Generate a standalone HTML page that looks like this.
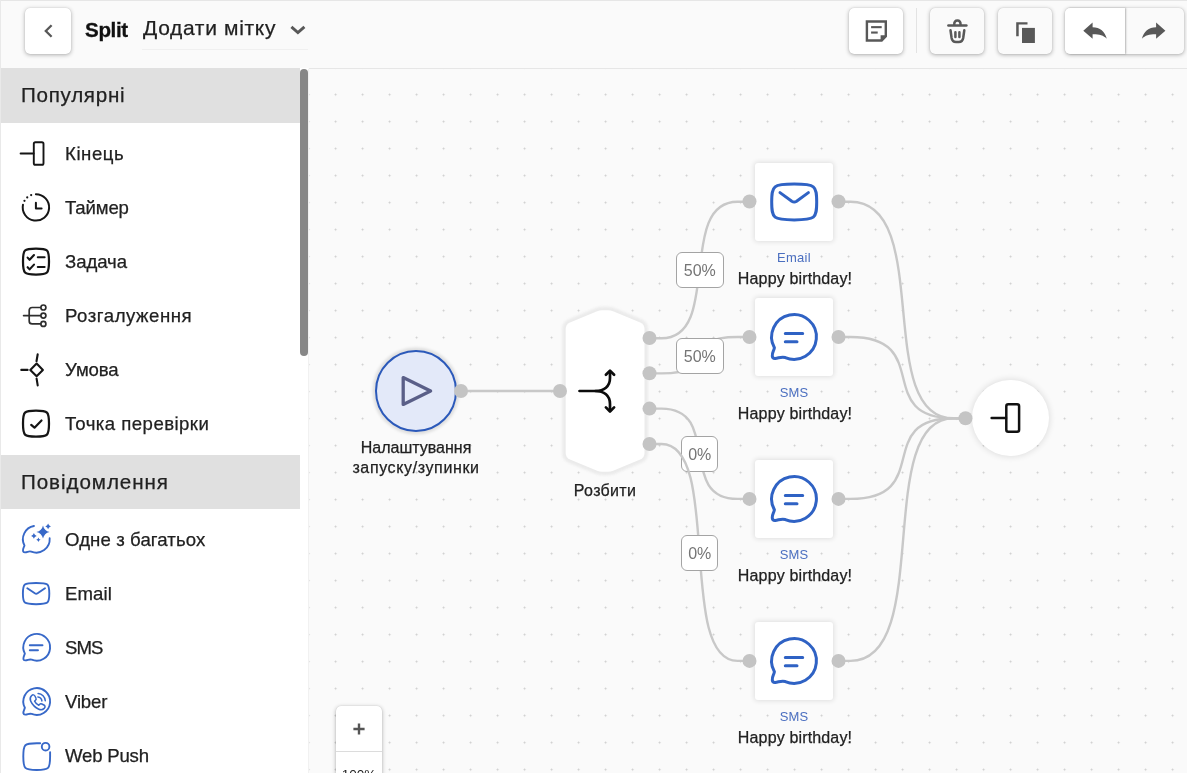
<!DOCTYPE html>
<html lang="uk">
<head>
<meta charset="utf-8">
<title>Split</title>
<style>
*{box-sizing:border-box;margin:0;padding:0}
html,body{width:1187px;height:773px;overflow:hidden;background:#fafafa;font-family:"Liberation Sans",sans-serif;color:#212121}
#app{position:relative;width:1187px;height:773px;overflow:hidden;background:#fafafa}
/* header */
#hdr{position:absolute;left:0;top:0;width:1187px;height:68px;background:#fafafa}
.btn{position:absolute;top:8px;height:46px;border-radius:5px;background:#fff;box-shadow:0 1px 4px rgba(0,0,0,.3),0 0 1px rgba(0,0,0,.2)}
.btn.dis{background:#fafafa}
.btn svg{position:absolute;display:block}
#title{position:absolute;left:84.5px;top:17px;font-weight:bold;font-size:20.6px;letter-spacing:-0.35px;line-height:26px;color:#111;white-space:nowrap}
#tag{position:absolute;left:143px;top:14px;font-size:21px;letter-spacing:0.68px;line-height:28px;color:#212121;white-space:nowrap}
#tagline{position:absolute;left:142px;top:48.5px;width:166px;height:1px;background:#f0f0f0}
/* sidebar */
#side{position:absolute;left:0;top:68px;width:300px;height:705px;background:#fff;border-left:1px solid #e0e0e0}
.sec{position:absolute;left:0;width:300px;height:54.6px;background:#e0e0e0;font-size:20.6px;line-height:54px;padding-left:20px;color:#212121;white-space:nowrap}
.it{position:absolute;left:0;width:300px;height:54px;font-size:18.6px;line-height:54px;padding-left:64px;color:#212121;white-space:nowrap}
.it svg{position:absolute;left:19px;top:11px;width:32px;height:32px;display:block}
#sb{position:absolute;left:300px;top:68px;width:8px;height:705px;background:#fff}
#thumb{position:absolute;left:0;top:1px;width:8px;height:287px;border-radius:4px;background:#878787}
#vline{position:absolute;left:308px;top:69px;width:1px;height:704px;background:#f1f1f1}
/* canvas */
#cv{position:absolute;left:309px;top:68px;width:878px;height:705px;border-top:1px solid #e6e6e6;overflow:hidden;background-color:#fafafa;
background-image:radial-gradient(circle,#cdcdcd 0,#cdcdcd 0.7px,rgba(205,205,205,0) 1.3px);background-size:27px 27px;background-position:-310.9px -68.9px}
#wires{position:absolute;left:0;top:0;width:1187px;height:773px}
.abs{position:absolute}
.it,.sec,.lbl,.pc,#title,#tag,#zoom div{will-change:transform}
.it,.sec,.nm,#tag{-webkit-text-stroke:0.25px currentColor}
#title{-webkit-text-stroke:0.3px currentColor}
.node{position:absolute;width:78px;height:78px;background:#fff;border-radius:3px;box-shadow:0 0 5px 1px rgba(0,0,0,.11)}
.lbl{position:absolute;width:200px;text-align:center;white-space:nowrap}
.ch{font-size:13px;line-height:16px;color:#4b6fc0}
.nm{font-size:16px;line-height:20px;color:#212121}
.pc{position:absolute;height:36px;border:1.5px solid #a4a4a4;border-radius:6px;background:#fff;color:#757575;font-size:16px;line-height:35.6px;text-align:center}
#zoom{position:absolute;left:336px;top:706px;width:46px;height:80px;background:#fff;border-radius:5px;box-shadow:0 1px 4px rgba(0,0,0,.3),0 0 1px rgba(0,0,0,.2)}
</style>
</head>
<body>
<div id="app">
<div id="cv"><div class="abs" style="left:-309px;top:-69px;width:1187px;height:773px">
<svg id="wires" width="1187" height="773" viewBox="0 0 1187 773">
<g fill="none" stroke="#c8c8c8" stroke-width="2.4"><path d="M649.5 338.3H661.5C722.5 338.3 676.5 201.8 737.5 201.8H749.5"/><path d="M649.5 373.4H661.5C722.5 373.4 676.5 337 737.5 337H749.5"/><path d="M649.5 408.6H661.5C722.5 408.6 676.5 498.900 737.5 498.900H749.5"/><path d="M838.5 201.8H850.5C934.5 201.8 872.5 418.3 953.5 418.3H965.5"/><path d="M838.5 337H850.5C934.5 337 872.5 418.3 953.5 418.3H965.5"/><path d="M838.5 498.900H850.5C934.5 498.900 872.5 418.3 953.5 418.3H965.5"/><path d="M838.5 660.900H850.5C934.5 660.900 872.5 418.3 953.5 418.3H965.5"/><path d="M461 391H560"/></g>
</svg>
<div class="abs" style="left:375px;top:350px;width:82px;height:82px;border-radius:50%;background:#e3e9f9;border:2.7px solid #2b59ba;box-shadow:0 0 3px 2.5px rgba(0,0,0,.11)"></div>
<svg class="abs" style="left:396px;top:371px" width="40" height="40" viewBox="396 371 40 40"><path d="M403.200 377.600V404.400L430.600 391Z" fill="none" stroke="#5a5f88" stroke-width="3.300" stroke-linejoin="round"/></svg>
<div class="lbl nm" style="left:316px;top:438px">Налаштування<br><span style="letter-spacing:.62px">запуску/зупинки</span></div>
<svg class="abs" style="left:555px;top:300px" width="100" height="182" viewBox="555 300 100 182"><path d="M565.700 329Q565.700 324.200 570 322.400L596.500 311.400Q599.500 310.200 602.500 310.200H607.700Q610.700 310.200 613.700 311.400L640.200 322.400Q644.500 324.200 644.500 329V453Q644.500 457.800 640.200 459.600L613.700 470.600Q610.700 471.800 607.700 471.800H602.500Q599.500 471.800 596.500 470.600L570 459.600Q565.700 457.800 565.700 453Z" fill="#fff" stroke="#ebebeb" stroke-width="7" stroke-linejoin="round" style="filter:blur(1.3px)"/>
<path d="M565.700 329Q565.700 324.200 570 322.400L596.500 311.400Q599.500 310.200 602.500 310.200H607.700Q610.700 310.200 613.700 311.400L640.200 322.400Q644.500 324.200 644.500 329V453Q644.500 457.800 640.200 459.600L613.700 470.600Q610.700 471.800 607.700 471.800H602.500Q599.500 471.800 596.500 470.600L570 459.600Q565.700 457.800 565.700 453Z" fill="#fff"/>
<g fill="none" stroke="#0c0c0c" stroke-width="2.700" stroke-linecap="round" stroke-linejoin="round"><path d="M579.500 391H595.500C604 391 610 386.500 610 378V371.500"/><path d="M595.500 391C604 391 610 395.500 610 404V410.500"/><path d="M605.900 374.800L610 370.700L614.100 374.800M605.900 407.400L610 411.500L614.100 407.400"/></g></svg>
<div class="lbl nm" style="left:505px;top:481px;letter-spacing:.3px">Розбити</div>
<div class="node" style="left:755px;top:163px"><svg class="abs" style="left:0;top:0" width="78" height="78" viewBox="0 0 78 78"><g fill="none" stroke="#2f62c4" stroke-width="3" stroke-linecap="round" stroke-linejoin="round"><path d="M39.2 21.1C60.12 21.1 61.7 22.35 61.7 39C61.7 55.65 60.12 56.9 39.2 56.9C18.28 56.9 16.700000000000003 55.65 16.700000000000003 39C16.700000000000003 22.35 18.28 21.1 39.2 21.1Z"/><path d="M25 29.600L36.800 38.200Q39.200 39.800 41.600 38.200L53.400 29.600"/></g></svg></div><div class="lbl ch" style="left:694.500px;top:250px;letter-spacing:0.3px;margin-left:-0.8px">Email</div><div class="lbl nm" style="left:694.500px;top:269px"><span style="letter-spacing:.15px">Happy birthday!</span></div>
<div class="node" style="left:755px;top:298px"><svg class="abs" style="left:0;top:0" width="78" height="78" viewBox="0 0 78 78"><g fill="none" stroke="#2f62c4" stroke-width="3" stroke-linecap="round" stroke-linejoin="round"><path d="M30.25 59.52A22.4 22.4 0 1 0 19.41 49.76C18.81 53.26 17.00 54.30 17.30 58.10Q17.60 60.70 20.20 60.50C23.80 60.10 26.25 58.32 30.25 59.52Z"/><path d="M30.300 35.500H47.700M30.300 43.700H42"/></g></svg></div><div class="lbl ch" style="left:694.500px;top:385px;letter-spacing:0.1px;margin-left:-0.3px">SMS</div><div class="lbl nm" style="left:694.500px;top:404px"><span style="letter-spacing:.15px">Happy birthday!</span></div>
<div class="node" style="left:755px;top:460.200px"><svg class="abs" style="left:0;top:0" width="78" height="78" viewBox="0 0 78 78"><g fill="none" stroke="#2f62c4" stroke-width="3" stroke-linecap="round" stroke-linejoin="round"><path d="M30.25 59.52A22.4 22.4 0 1 0 19.41 49.76C18.81 53.26 17.00 54.30 17.30 58.10Q17.60 60.70 20.20 60.50C23.80 60.10 26.25 58.32 30.25 59.52Z"/><path d="M30.300 35.500H47.700M30.300 43.700H42"/></g></svg></div><div class="lbl ch" style="left:694.500px;top:547px;letter-spacing:0.1px;margin-left:-0.3px">SMS</div><div class="lbl nm" style="left:694.500px;top:566px"><span style="letter-spacing:.15px">Happy birthday!</span></div>
<div class="node" style="left:755px;top:622.200px"><svg class="abs" style="left:0;top:0" width="78" height="78" viewBox="0 0 78 78"><g fill="none" stroke="#2f62c4" stroke-width="3" stroke-linecap="round" stroke-linejoin="round"><path d="M30.25 59.52A22.4 22.4 0 1 0 19.41 49.76C18.81 53.26 17.00 54.30 17.30 58.10Q17.60 60.70 20.20 60.50C23.80 60.10 26.25 58.32 30.25 59.52Z"/><path d="M30.300 35.500H47.700M30.300 43.700H42"/></g></svg></div><div class="lbl ch" style="left:694.500px;top:709px;letter-spacing:0.1px;margin-left:-0.3px">SMS</div><div class="lbl nm" style="left:694.500px;top:728px"><span style="letter-spacing:.15px">Happy birthday!</span></div>
<div class="pc" style="left:675.600px;top:252px;width:47.600px">50%</div>
<div class="pc" style="left:675.600px;top:337.500px;width:47.600px">50%</div>
<div class="pc" style="left:681.200px;top:435.800px;width:37.400px">0%</div>
<div class="abs" style="left:972.300px;top:379.500px;width:76.400px;height:76.400px;border-radius:50%;background:#fff;box-shadow:0 0 6px 1px rgba(0,0,0,.11)"></div>
<svg class="abs" style="left:985px;top:398px" width="40" height="40" viewBox="985 398 40 40"><g fill="none" stroke="#111" stroke-width="2.500" stroke-linecap="round" stroke-linejoin="round"><path d="M991.600 418H1006"/><rect x="1006.300" y="404.300" width="12.800" height="27.400" rx="2"/></g></svg>
<svg class="abs" style="left:0;top:0;pointer-events:none" width="1187" height="773" viewBox="0 0 1187 773"><g fill="none" stroke="#c8c8c8" stroke-width="2.4"><path d="M649.5 444H661.5C722.5 444 676.5 660.900 737.5 660.900H749.5"/></g><g fill="#c4c4c4"><circle cx="461" cy="391" r="7"/><circle cx="560" cy="391" r="7"/><circle cx="649.5" cy="338" r="7"/><circle cx="649.5" cy="373.2" r="7"/><circle cx="649.5" cy="408.6" r="7"/><circle cx="649.5" cy="444" r="7"/><circle cx="749.5" cy="201.5" r="7"/><circle cx="749.5" cy="337" r="7"/><circle cx="749.5" cy="498.900" r="7"/><circle cx="749.5" cy="660.900" r="7"/><circle cx="838.5" cy="201.5" r="7"/><circle cx="838.5" cy="337" r="7"/><circle cx="838.5" cy="498.900" r="7"/><circle cx="838.5" cy="660.900" r="7"/><circle cx="965.500" cy="418.300" r="7"/></g></svg>
<div class="pc" style="left:681.200px;top:534.500px;width:37.400px">0%</div>
<div id="zoom"><div class="abs" style="left:0;top:45px;width:46px;height:1px;background:#dcdcdc"></div>
<svg class="abs" style="left:11px;top:11px" width="24" height="24" viewBox="0 0 24 24"><path d="M6.400 12H17.600M12 6.400V17.600" fill="none" stroke="#555" stroke-width="2.400"/></svg>
<div class="abs" style="left:0;top:60px;width:46px;text-align:center;font-size:13.500px;line-height:18px;color:#222">100%</div></div></div>
</div></div>
<!--CANVAS_END-->
<div id="side">
 <div class="sec" style="top:0px;letter-spacing:0.72px">Популярні</div>
 <div class="it" style="top:59px;letter-spacing:0.56px">Кінець</div><svg class="abs" style="left:15px;top:66px" width="40" height="40" viewBox="16 134 40 40"><g fill="none" stroke="#151515" stroke-linecap="round" stroke-linejoin="round" stroke-width="1.9"><path d="M20.6 153.5H33.6"/><rect x="33.8" y="142.2" width="9.7" height="22.6" rx="1.6"/></g></svg>
 <div class="it" style="top:113px;letter-spacing:-0.16px">Таймер</div><svg class="abs" style="left:15px;top:120px" width="40" height="40" viewBox="16 188 40 40"><g fill="none" stroke="#151515" stroke-linecap="round" stroke-linejoin="round" stroke-width="2"><path d="M35.9 194.20000000000002A13.2 13.2 0 1 1 22.99 204.66"/><path d="M35.9 202.8V208.6H41.6"/><circle cx="24.47" cy="200.80" r="1.1" fill="#151515" stroke="none"/><circle cx="27.24" cy="197.44" r="1.1" fill="#151515" stroke="none"/><circle cx="31.17" cy="195.08" r="1.1" fill="#151515" stroke="none"/></g></svg>
 <div class="it" style="top:167px;letter-spacing:-0.08px">Задача</div><svg class="abs" style="left:15px;top:174px" width="40" height="40" viewBox="16 242 40 40"><g fill="none" stroke="#151515" stroke-linecap="round" stroke-linejoin="round" stroke-width="2.25"><path d="M36 248.5C47.96 248.5 49 249.54 49 261.5C49 273.46 47.96 274.5 36 274.5C24.04 274.5 23 273.46 23 261.5C23 249.54 24.04 248.5 36 248.5Z"/><path d="M27.6 257.6l2 2.2 4.400-4.800M27.600 267.200l2 2.200 4.400-4.800M37.800 257.300H44.600M37.800 267H44.600" stroke-width="2.1"/></g></svg>
 <div class="it" style="top:221px;letter-spacing:0.54px">Розгалуження</div><svg class="abs" style="left:15px;top:228px" width="40" height="40" viewBox="16 296 40 40"><g fill="none" stroke="#2e2e2e" stroke-width="1.7" stroke-linecap="round"><path d="M23.600 315.600H40.600"/><path d="M40.600 307.500H32.200a3 3 0 0 0-3 3V320.900a3 3 0 0 0 3 3H40.600"/><circle cx="43.400" cy="307.500" r="2.500" fill="#fff"/><circle cx="43.400" cy="315.600" r="2.500" fill="#fff"/><circle cx="43.400" cy="323.900" r="2.500" fill="#fff"/></g></svg>
 <div class="it" style="top:275px;letter-spacing:-0.1px">Умова</div><svg class="abs" style="left:15px;top:282px" width="40" height="40" viewBox="16 350 40 40"><g fill="none" stroke="#151515" stroke-linecap="round" stroke-linejoin="round" stroke-width="2.1"><path d="M36.600 363.600L42.900 369.900 36.600 376.200 30.300 369.900Z"/><path d="M21.300 369.900H27.600M37.700 354.200L36.500 361.200M36.600 378.600L37.700 385.400"/></g></svg>
 <div class="it" style="top:329px;letter-spacing:0.45px">Точка перевірки</div><svg class="abs" style="left:15px;top:336px" width="40" height="40" viewBox="16 404 40 40"><g fill="none" stroke="#151515" stroke-linecap="round" stroke-linejoin="round" stroke-width="2.25"><path d="M36 410.6C47.96 410.6 49 411.64 49 423.6C49 435.56 47.96 436.6 36 436.6C24.04 436.6 23 435.56 23 423.6C23 411.64 24.04 410.6 36 410.6Z"/><path d="M31.200 424.900l3.300 2.800 7-7.200" stroke-width="2.200"/></g></svg>
 <div class="sec" style="top:387px;height:54px;letter-spacing:0.93px">Повідомлення</div>
 <div class="it" style="top:445px;letter-spacing:0.1px">Одне з багатьох</div><svg class="abs" style="left:15px;top:452px" width="40" height="40" viewBox="16 520 40 40"><g fill="none" stroke="#3768c8" stroke-linecap="round" stroke-linejoin="round" stroke-width="1.85"><path d="M33.97 526.00A13.4 13.4 0 0 0 24.47 545.49C23.87 547.69 22.70 548.70 23.00 551.00Q23.299999999999997 552.40 24.90 552.30C27.30 552.40 28.78 550.72 31.28 551.62A13.4 13.4 0 0 0 49.67 538.27"/><g fill="#3768c8" stroke="none"><path d="M43 525.4Q44.19 530.81 49.6 532Q44.19 533.19 43 538.6Q41.81 533.19 36.4 532Q41.81 530.81 43 525.4Z"/><path d="M48.1 523.6Q48.60 525.90 50.9 526.4Q48.60 526.90 48.1 529.1999999999999Q47.60 526.90 45.300000000000004 526.4Q47.60 525.90 48.1 523.6Z"/><path d="M33.9 533.1Q34.40 535.40 36.699999999999996 535.9Q34.40 536.40 33.9 538.6999999999999Q33.40 536.40 31.099999999999998 535.9Q33.40 535.40 33.9 533.1Z"/><path d="M38.4 537.5Q38.80 539.30 40.6 539.7Q38.80 540.10 38.4 541.9000000000001Q38.00 540.10 36.199999999999996 539.7Q38.00 539.30 38.4 537.5Z"/></g></g></svg>
 <div class="it" style="top:499px;letter-spacing:0.07px">Email</div><svg class="abs" style="left:15px;top:506px" width="40" height="40" viewBox="16 574 40 40"><g fill="none" stroke="#3768c8" stroke-linecap="round" stroke-linejoin="round" stroke-width="1.9"><path d="M36.1 583.0C48.38 583.0 49.3 583.74 49.3 593.6C49.3 603.46 48.38 604.2 36.1 604.2C23.82 604.2 22.900000000000002 603.46 22.900000000000002 593.6C22.900000000000002 583.74 23.82 583.0 36.1 583.0Z"/><path d="M27.300 588.200L34.800 593.300q1.400 0.900 2.800 0L45 588.200"/></g></svg>
 <div class="it" style="top:553px;letter-spacing:-0.9px">SMS</div><svg class="abs" style="left:15px;top:560px" width="40" height="40" viewBox="16 628 40 40"><g fill="none" stroke="#3768c8" stroke-linecap="round" stroke-linejoin="round" stroke-width="1.9"><path d="M31.68 659.72A13.4 13.4 0 1 0 24.87 653.59C24.27 655.79 23.10 656.80 23.40 659.10Q23.700000000000003 660.50 25.30 660.40C27.70 660.50 29.18 658.82 31.68 659.72Z"/><path d="M29.800 645.300H42.500M29.800 650.300H38"/></g></svg>
 <div class="it" style="top:607px;letter-spacing:-0.17px">Viber</div><svg class="abs" style="left:15px;top:614px" width="40" height="40" viewBox="16 682 40 40"><g fill="none" stroke="#3768c8" stroke-linecap="round" stroke-linejoin="round" stroke-width="1.9"><path d="M31.68 713.92A13.4 13.4 0 1 0 24.87 707.79C24.27 709.99 23.10 711.00 23.40 713.30Q23.700000000000003 714.70 25.30 714.60C27.70 714.70 29.18 713.02 31.68 713.92Z"/><path d="M31.50 695.70c1.300-1.300 2.700-1 3.400 0.300l1 2c0.500 1 0.200 1.900-0.600 2.500l-0.700 0.600c0.900 1.900 2.300 3.300 4.200 4.200l0.600-0.700c0.600-0.800 1.500-1.100 2.500-0.600l2 1c1.300 0.700 1.600 2.100 0.300 3.400c-1.500 1.500-3.400 1.700-5.400 0.800c-3.700-1.700-6.400-4.400-8.100-8.100c-0.900-2-0.700-3.900 0.800-5.400Z" stroke-width="1.500"/><path d="M37.90 696.90a4.600 4.600 0 0 1 4 4M38.10 693.50a7.800 7.800 0 0 1 7.200 7.200" stroke-width="1.500"/></g></svg>
 <div class="it" style="top:661px;letter-spacing:-0.2px">Web Push</div><svg class="abs" style="left:15px;top:668px" width="40" height="40" viewBox="16 736 40 40"><g fill="none" stroke="#3768c8" stroke-linecap="round" stroke-linejoin="round" stroke-width="1.9"><path d="M50.1 752.1V756.6C50.1 768.93 49.03 770.0 36.7 770.0C24.37 770.0 23.300000000000004 768.93 23.300000000000004 756.6C23.300000000000004 744.27 24.37 743.2 36.7 743.2H40.2"/><circle cx="45.600" cy="746.700" r="3.800"/></g></svg>
</div>
<div id="sb"><div id="thumb"></div></div>
<div id="vline"></div>
<!--SIDEBAR_END-->
<div id="hdr">
 <div class="abs" style="left:0;top:0;width:1187px;height:1px;background:#e6e6e6"></div>
 <div class="btn" style="left:25px;width:46px"></div>
 <div id="title">Split</div>
 <div id="tag">Додати мітку</div>
 <div id="tagline"></div>
 <div class="btn" style="left:849px;width:54px"></div>
 <div class="abs" style="left:916px;top:8px;width:1px;height:45px;background:#e3e3e3"></div>
 <div class="btn dis" style="left:930px;width:54px"></div>
 <div class="btn dis" style="left:998px;width:54px"></div>
 <div class="btn dis" style="left:1065px;width:119px"></div>
 <div class="btn" style="left:1065px;width:60px;border-radius:5px 0 0 5px;box-shadow:1px 0 2px rgba(0,0,0,.28)"></div>
 <svg class="abs" style="left:0;top:0" width="1187" height="68" viewBox="0 0 1187 68">
  <path d="M51.600 25.200L45.800 31L51.600 36.800" fill="none" stroke="#585858" stroke-width="2.300"/>
  <path d="M291.400 26.800L297.900 32.500L304.400 26.800" fill="none" stroke="#585858" stroke-width="2.900"/>
  <g fill="#585858">
   <path fill-rule="evenodd" d="M865.700 20.300H887V36.700L882.200 41.700H865.700ZM868.100 22.700V39.300H880.600V35.300H884.600V22.700Z"/>
   <rect x="871.100" y="26.100" width="10.600" height="2.100"/><rect x="871.100" y="31.500" width="6.600" height="2.100"/>
   <rect x="1022" y="27.900" width="12.900" height="15.100"/>
   <path d="M1016.200 22.200H1027.500V24.600H1018.700V36.300H1016.200Z"/>
   <path d="M1083.300 30.700L1092.600 22.600V27.300C1100 27.500 1105 31.500 1106.800 38.800C1103.500 35.300 1099 34.200 1092.600 34.300V38.800Z"/>
   <path d="M1165.400 30.700L1156.100 22.600V27.300C1148.700 27.500 1143.700 31.500 1141.900 38.800C1145.200 35.300 1149.700 34.200 1156.100 34.300V38.800Z"/>
  </g>
  <g fill="none" stroke="#585858" stroke-width="2.500" stroke-linecap="round" stroke-linejoin="round">
   <path d="M948.400 25.500H966.400"/><path d="M954.200 24.800C954.200 22.300 955.500 20.500 957.400 20.500C959.300 20.500 960.600 22.300 960.600 24.800"/>
   <path d="M950.500 30.300L951.600 38C952.100 41 953.500 41.900 956 41.900H958.800C961.300 41.900 962.700 41 963.200 38L964.300 30.300"/>
   <path d="M955.400 32.300V37M959.400 32.300V37"/>
  </g>
 </svg>
</div>
<div class="abs" style="left:0;top:0;width:1px;height:773px;background:#e9e9e9"></div>
<!--HEADER_END-->
</div>
</body>
</html>
